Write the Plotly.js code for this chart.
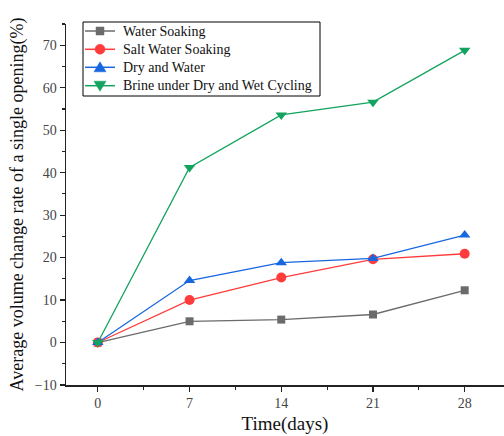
<!DOCTYPE html>
<html><head><meta charset="utf-8">
<script src="https://cdn.plot.ly/plotly-3.0.1.min.js"></script>
<style>html,body{margin:0;padding:0;background:#fff}</style>
</head><body><div id="c" style="width:504px;height:436px"></div>
<script>
const days = [0, 7, 14, 21, 28];
const waterSoaking = [0, 5.0, 5.4, 6.6, 12.3];
const saltWaterSoaking = [0, 10.0, 15.3, 19.6, 20.9];
const dryAndWater = [0, 14.6, 18.8, 19.8, 25.3];
const brineDryWet = [0, 41.2, 53.6, 56.6, 68.8];
const names = ['Water Soaking', 'Salt Water Soaking', 'Dry and Water', 'Brine under Dry and Wet Cycling'];
const xTicks = [0, 7, 14, 21, 28];

const series = [
  {y: waterSoaking, color: '#6b6b6b', symbol: 'square', size: 8},
  {y: saltWaterSoaking, color: '#ff3b3b', symbol: 'circle', size: 10},
  {y: dryAndWater, color: '#1767e0', symbol: 'triangle-up', size: 10},
  {y: brineDryWet, color: '#12a35e', symbol: 'triangle-down', size: 10}
];
const data = series.map((s, i) => ({
  x: days, y: s.y, name: names[i], type: 'scatter', mode: 'lines+markers',
  line: {color: s.color, width: 1.3},
  marker: {color: s.color, symbol: s.symbol, size: s.size}
}));
const FF = 'Liberation Serif, Times New Roman, serif';

// plot area in pixels (from margins)
const W = 504, H = 436, M = {l: 66, r: 0, t: 24, b: 51};
const pw = W - M.l - M.r, ph = H - M.t - M.b;
const px = X => (X - M.l) / pw;
const py = Y => (H - M.b - Y) / ph;

// hand-drawn legend (compact, like the reference)
const shapes = [], annotations = [];
shapes.push({type: 'rect', xref: 'paper', yref: 'paper', x0: px(83), x1: px(320), y0: py(96), y1: py(22),
  line: {color: '#000', width: 1}, fillcolor: '#fff', layer: 'above'});
const rowY = [31, 49.3, 67.3, 85.7];
series.forEach((s, i) => {
  const Y = rowY[i], cx = 100;
  shapes.push({type: 'line', xref: 'paper', yref: 'paper', x0: px(85), x1: px(115), y0: py(Y), y1: py(Y),
    line: {color: s.color, width: 1.5}, layer: 'above'});
  const base = {xref: 'paper', yref: 'paper', fillcolor: s.color, line: {color: s.color, width: 0.5}, layer: 'above'};
  if (s.symbol === 'square') {
    shapes.push(Object.assign({type: 'rect', x0: px(cx - 4), x1: px(cx + 4), y0: py(Y + 4), y1: py(Y - 4)}, base));
  } else if (s.symbol === 'circle') {
    shapes.push(Object.assign({type: 'circle', x0: px(cx - 5), x1: px(cx + 5), y0: py(Y + 5), y1: py(Y - 5)}, base));
  } else {
    const d = s.symbol === 'triangle-up' ? 1 : -1;
    const path = `M ${px(cx - 6)} ${py(Y + 4.5 * d)} L ${px(cx + 6)} ${py(Y + 4.5 * d)} L ${px(cx)} ${py(Y - 5.5 * d)} Z`;
    shapes.push(Object.assign({type: 'path', path: path}, base));
  }
  annotations.push({xref: 'paper', yref: 'paper', x: px(121), y: py(Y), xanchor: 'left', yanchor: 'middle',
    text: names[i], showarrow: false, font: {family: FF, size: 14, color: '#111'}});
});

const layout = {
  width: W, height: H, margin: M,
  paper_bgcolor: '#fff', plot_bgcolor: '#fff',
  font: {family: FF, color: '#222'},
  showlegend: false,
  shapes: shapes, annotations: annotations,
  xaxis: {
    range: [-2.43, 31], tickvals: xTicks, ticktext: xTicks.map(String),
    showgrid: false, zeroline: false, showline: true, linecolor: '#222', linewidth: 1.5,
    ticks: 'outside', ticklen: 5, tickcolor: '#222', tickwidth: 1.2,
    minor: {dtick: 3.5, tick0: 0, ticks: 'outside', ticklen: 3, tickcolor: '#222', showgrid: false},
    tickfont: {family: FF, size: 14, color: '#444'},
    title: {text: 'Time(days)', font: {family: FF, size: 19, color: '#111'}, standoff: 6}
  },
  yaxis: {
    range: [-10, 75], dtick: 10, tick0: 0,
    showgrid: false, zeroline: false, showline: true, linecolor: '#222', linewidth: 1.5,
    ticks: 'outside', ticklen: 5, tickcolor: '#222', tickwidth: 1.2,
    minor: {dtick: 5, ticks: 'outside', ticklen: 3, tickcolor: '#222', showgrid: false},
    tickfont: {family: FF, size: 14, color: '#444'},
    title: {text: 'Average volume change rate of a single opening(%)', font: {family: FF, size: 18, color: '#111'}, standoff: 6}
  }
};
Plotly.newPlot('c', data, layout, {displayModeBar: false, staticPlot: true});
</script></body></html>
